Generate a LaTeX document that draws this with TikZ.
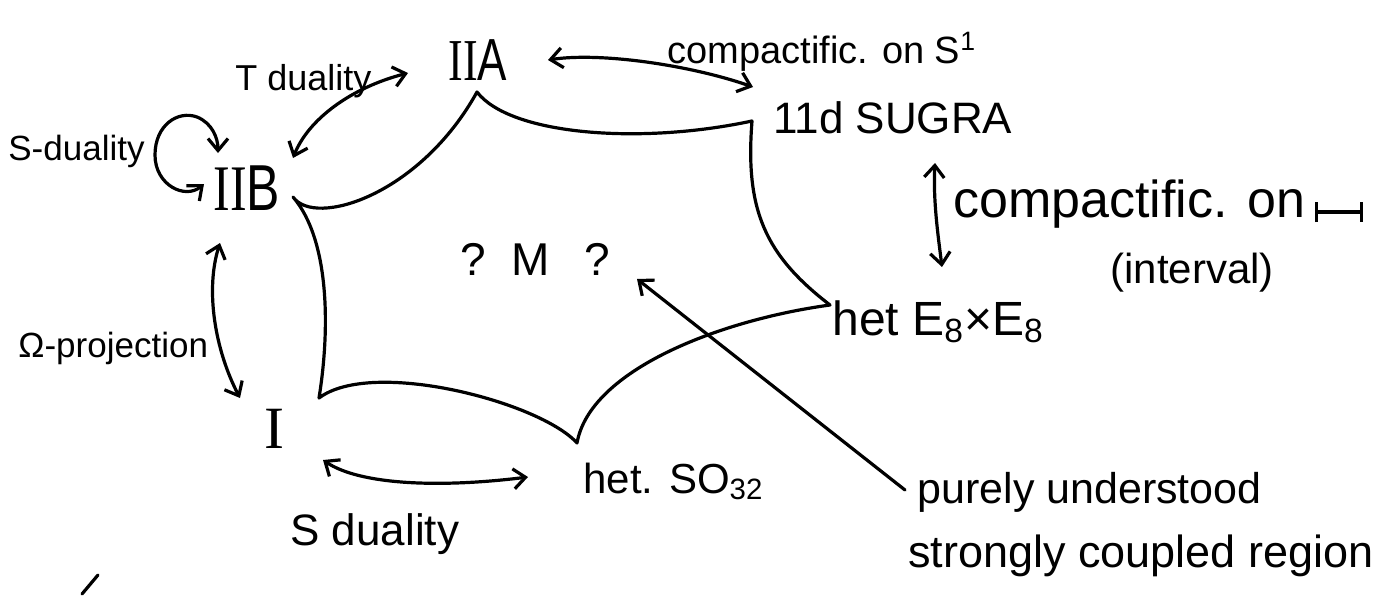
\documentclass[tikz,border=0pt]{standalone}
\usepackage{fontspec}
\usepackage{graphicx}
\setmainfont{Liberation Sans}
\newfontfamily\romfont{Liberation Serif}
\usetikzlibrary{arrows.meta}
\newcommand\hwsize[1]{\fontsize{#1}{#1}\selectfont}
\begin{document}
\begin{tikzpicture}[x=0.5pt,y=-0.5pt,
  pen/.style={line width=1.6pt, line cap=round, line join=round},
  barb/.tip={Straight Barb[length=6pt,width=10pt]},
  dbl/.style={pen, barb-barb},
  sgl/.style={pen, -barb},
  lbl/.style={inner sep=0pt, anchor=base west}]
\useasboundingbox[fill=white] (0,0) rectangle (1391,595);

% labels
\node[lbl] (tdual) at (235,90) {\hwsize{18}T duality};
\node[lbl] (sdual) at (8,160) {\hwsize{17.5}S-duality};
\node[lbl] (IIA) at (448,80) {\scalebox{1}[1.35]{\hwsize{22}{\romfont II}A}};
\node[lbl] (IIB) at (213,210) {\scalebox{1}[1.3]{\hwsize{25}{\romfont II}B}};
\node[lbl] (comp1) at (667,63) {\hwsize{19}compactific. on S\textsuperscript{1}};
\node[lbl] (sugra) at (773,133) {\hwsize{22}11d SUGRA};
\node[lbl] (comp2) at (953,217) {\hwsize{26}compactific. on};
\node[lbl] (interval) at (1110,283) {\hwsize{21}(interval)};
\node[lbl] (E8) at (832,335) {\hwsize{24}het E\textsubscript{8}×E\textsubscript{8}};
\node[lbl] (M) at (460,275) {\hwsize{23}?\hspace{13pt}M\hspace{17pt}?};
\node[lbl] (omega) at (18,357) {\hwsize{17.5}Ω-projection};
\node[lbl] (I) at (264,448) {\hwsize{30}\romfont I};
\node[lbl] (SO) at (583,493) {\hwsize{21}het. SO\textsubscript{32}};
\node[lbl] (sdual2) at (290,545) {\hwsize{22}S duality};
\node[lbl] (poor1) at (917,503) {\hwsize{21.5}purely understood};
\node[lbl] (poor2) at (908,567) {\hwsize{22.5}strongly coupled region};

% cusps of the moduli space region
\coordinate (cIIB) at (293,197);
\coordinate (cIIA) at (477,92);
\coordinate (c11) at (752,121);
\coordinate (cE8) at (830,305);
\coordinate (cSO) at (577,443);
\coordinate (cI) at (319,398);

\draw[pen] (cIIB) .. controls (315,228) and (420,195) .. (cIIA)
  .. controls (510,135) and (640,145) .. (c11)
  .. controls (745,210) and (765,255) .. (cE8)
  .. controls (720,320) and (590,370) .. (cSO)
  .. controls (540,402) and (372,358) .. (cI)
  .. controls (330,330) and (330,240) .. (cIIB);

% arrow end points
\coordinate (tA) at (408,73);
\coordinate (tB) at (293,158);
\coordinate (lp1) at (204,184);
\coordinate (lp2) at (218,153);
\coordinate (a1) at (548,60);
\coordinate (a2) at (753,87);
\coordinate (v1) at (935,163);
\coordinate (v2) at (942,267);
\coordinate (o1) at (220,243);
\coordinate (o2) at (240,398);
\coordinate (s1) at (323,460);
\coordinate (s2) at (528,477);
\coordinate (m1) at (905,490);
\coordinate (m2) at (637,279);
\coordinate (iv1) at (1315,212);
\coordinate (iv2) at (1363,212);
\coordinate (st1) at (82,594);
\coordinate (st2) at (98,575);

% T duality
\draw[dbl] (tB) .. controls (308,120) and (350,88) .. (tA);
% S-duality loop
\draw[dbl] (lp1) .. controls (185,200) and (155,185) .. (155,155)
  .. controls (155,125) and (178,110) .. (197,117)
  .. controls (212,123) and (218,138) .. (lp2);
% IIA <-> 11d
\draw[dbl] (a1) .. controls (600,52) and (690,65) .. (a2);
% 11d <-> E8
\draw[dbl] (v1) .. controls (933,200) and (938,235) .. (v2);
% Omega projection
\draw[dbl] (o1) .. controls (205,290) and (215,350) .. (o2);
% S duality I <-> SO32
\draw[dbl] (s1) .. controls (360,485) and (440,488) .. (s2);
% pointer into region
\draw[sgl] (m1) -- (m2);
% interval symbol
\draw[pen, {Bar[width=10pt]}-{Bar[width=10pt]}] (iv1) -- (iv2);
% stray stroke
\draw[pen] (st1) -- (st2);
\end{tikzpicture}
\end{document}
